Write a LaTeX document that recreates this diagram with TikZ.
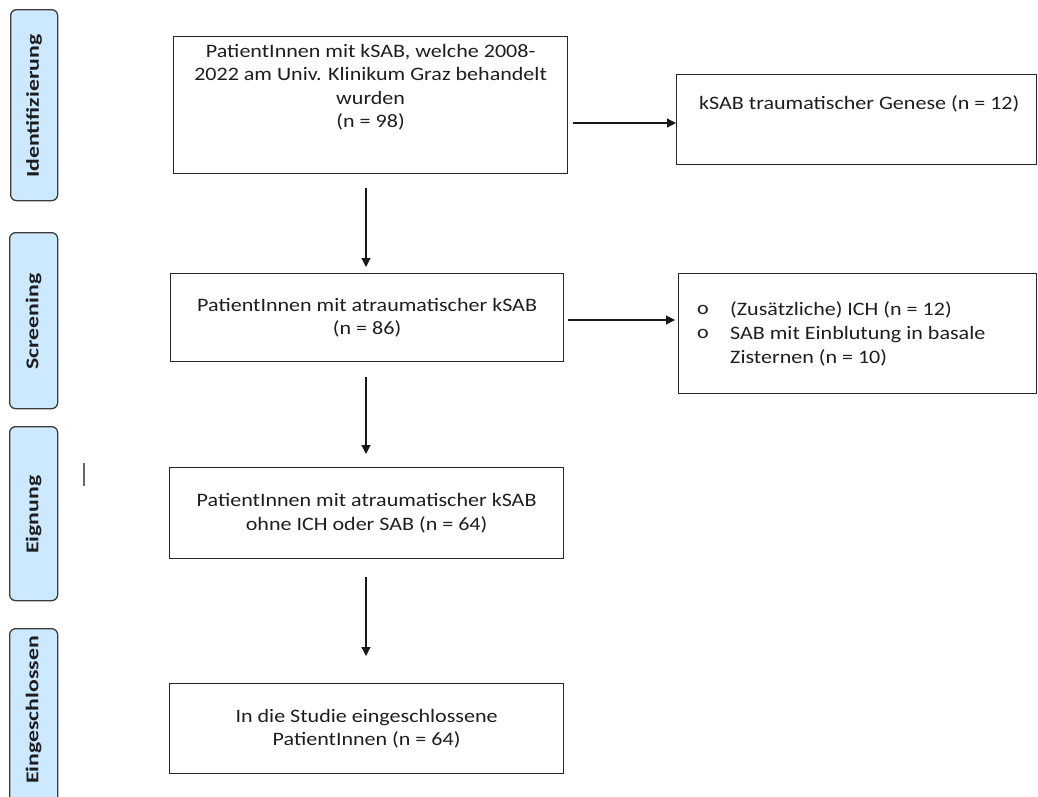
\documentclass[tikz,border=0pt]{standalone}
\usepackage{fontspec}
\setmainfont[FakeStretch=1.16]{Carlito}
\newfontfamily\sidefont[FakeStretch=1.32]{Carlito}
\usetikzlibrary{arrows.meta,positioning}
\definecolor{sidefill}{RGB}{204,233,255}
\definecolor{sideline}{RGB}{60,60,60}
\definecolor{txtcol}{RGB}{30,30,30}
\tikzset{
  every node/.style={text=txtcol},
  sidebox/.style={draw=sideline, line width=1.3pt, fill=sidefill, rounded corners=6pt, anchor=north west, inner sep=0pt},
  sidetxt/.style={rotate=90, font=\sidefont\fontsize{18}{20}\selectfont\bfseries},
  flowbox/.style={draw=black!85, line width=1.2pt, anchor=north west, inner sep=0pt, align=center, font=\fontsize{19}{23.5}\selectfont},
  maintxt/.style={align=center, font=\fontsize{19}{23.5}\selectfont, inner sep=0pt},
  lefttxt/.style={align=left, font=\fontsize{19}{24}\selectfont, inner sep=0pt},
  arr/.style={line width=1.2pt, draw=black!90, -{Triangle[length=9pt,width=9pt]}}
}
\begin{document}
\begin{tikzpicture}[x=1pt,y=-1pt]
\useasboundingbox (0,0) rectangle (1038,796);
\clip (0,0) rectangle (1038,796);
% side phase boxes
\node[sidebox, minimum width=47pt, minimum height=191pt] (s1) at (10,9) {};
\node[sidetxt] (s1t) at ([yshift=-1pt]s1.center) {Identifizierung};
\node[sidebox, minimum width=48pt, minimum height=176pt] (s2) at (9,232) {};
\node[sidetxt] (s2t) at ([yshift=-1pt]s2.center) {Screening};
\node[sidebox, minimum width=48pt, minimum height=174pt] (s3) at (9,426) {};
\node[sidetxt] (s3t) at ([yshift=-1pt]s3.center) {Eignung};
\node[sidebox, minimum width=48pt, minimum height=190pt] (s4) at (9,628) {};
\node[sidetxt] (s4t) at ([yshift=-82pt]s4.north) {Eingeschlossen};
% stray mark
\draw[line width=1.2pt, draw=black!60] (84,463) -- (84,486);
% main boxes
\node[flowbox, minimum width=394pt, minimum height=137pt] (b1) at (173,36) {};
\node[maintxt, anchor=north] (b1t) at ([yshift=-8pt]b1.north) {PatientInnen mit kSAB, welche 2008-\\2022 am Univ. Klinikum Graz behandelt\\wurden\\(n = 98)};
\node[flowbox, minimum width=393pt, minimum height=88pt] (b2) at (170,273) {PatientInnen mit atraumatischer kSAB\\(n = 86)};
\node[flowbox, minimum width=394pt, minimum height=91pt] (b3) at (169,467) {PatientInnen mit atraumatischer kSAB\\ohne ICH oder SAB (n = 64)};
\node[flowbox, minimum width=394pt, minimum height=90pt] (b4) at (169,683) {In die Studie eingeschlossene\\PatientInnen (n = 64)};
% right boxes
\node[flowbox, minimum width=360pt, minimum height=90pt] (r1) at (676,74) {};
\node[lefttxt, anchor=west] (r1t) at (699,104) {kSAB traumatischer Genese (n = 12)};
\node[flowbox, minimum width=358pt, minimum height=120pt] (r2) at (678,273) {};
\node[lefttxt, anchor=west] (r2a) at (697,334) {o\\o\\\phantom{o}};
\node[lefttxt, anchor=west] (r2t) at (730,334) {(Zusätzliche) ICH (n = 12)\\SAB mit Einblutung in basale\\Zisternen (n = 10)};
% connectors
\coordinate (a1s) at (366,188);
\coordinate (a2s) at (366,377);
\coordinate (a3s) at (366,577);
\draw[arr] (a1s) -- ([yshift=6pt]b2.north -| a1s);
\draw[arr] (a2s) -- ([yshift=13pt]b3.north -| a2s);
\draw[arr] (a3s) -- ([yshift=27pt]b4.north -| a3s);
\coordinate (h1s) at (573,123);
\coordinate (h2s) at (568,320);
\draw[arr] (h1s) -- (r1.west |- h1s);
\draw[arr] (h2s) -- ([xshift=-3pt]r2.west |- h2s);
\end{tikzpicture}
\end{document}
